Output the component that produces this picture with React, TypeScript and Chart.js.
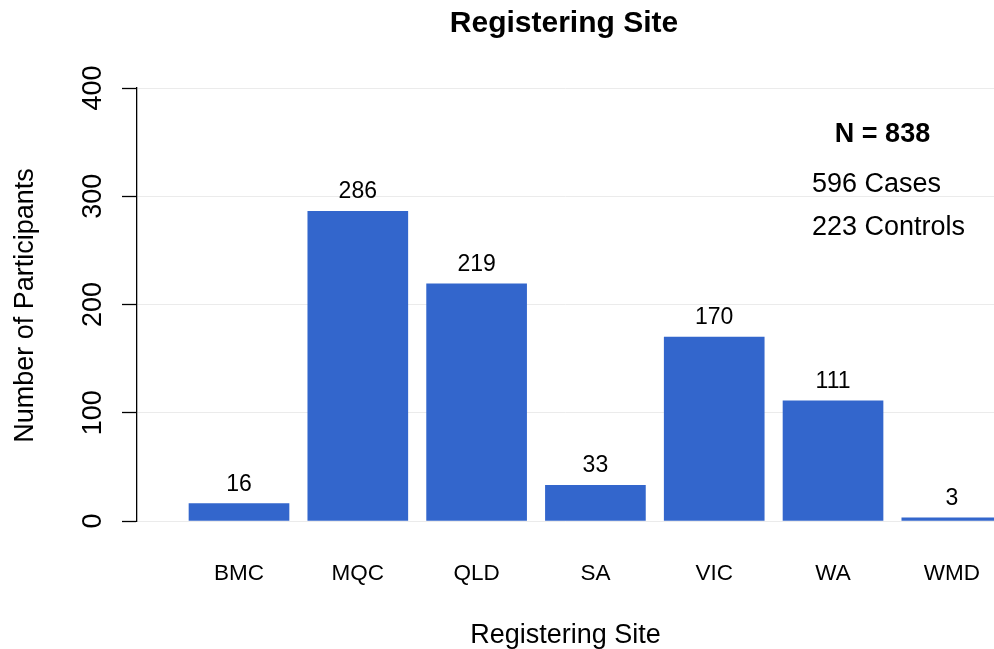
import React, { useEffect, useRef } from 'react';
import { Chart, registerables } from 'chart.js';

Chart.register(...registerables);

const categories: string[] = ['BMC', 'MQC', 'QLD', 'SA', 'VIC', 'WA', 'WMD'];
const participants: number[] = [16, 286, 219, 33, 170, 111, 3];
const yTickValues: number[] = [0, 100, 200, 300, 400];
const chartTitle = 'Registering Site';
const xAxisTitle = 'Registering Site';
const yAxisTitle = 'Number of Participants';
const noteTitle = 'N = 838';
const noteLines: string[] = ['596 Cases', '223 Controls'];

const FAM = '"Liberation Sans", Arial, Helvetica, sans-serif';

const textPlugin = {
  id: 'textPlugin',
  afterDraw(chart: any) {
    const { ctx, chartArea } = chart;
    const x = chart.scales.x;
    const y = chart.scales.y;
    ctx.save();
    ctx.fillStyle = '#000000';
    ctx.textBaseline = 'alphabetic';

    // main title
    ctx.font = `bold 30px ${FAM}`;
    ctx.textAlign = 'center';
    ctx.fillText(chartTitle, 564, 32);

    // value labels
    ctx.font = `23px ${FAM}`;
    participants.forEach((v, i) => {
      const px = x.getPixelForValue(i + 1);
      const py = y.getPixelForValue(v);
      ctx.fillText(String(v), px, py - 13);
    });

    // category labels
    ctx.font = `22.5px ${FAM}`;
    categories.forEach((c, i) => {
      const px = x.getPixelForValue(i + 1);
      ctx.fillText(c, px, 580);
    });

    // x axis title
    ctx.font = `27px ${FAM}`;
    ctx.fillText(xAxisTitle, (chartArea.left + chartArea.right) / 2, 643);

    // y tick labels (rotated)
    ctx.font = `27px ${FAM}`;
    yTickValues.forEach((v) => {
      const py = y.getPixelForValue(v);
      ctx.save();
      ctx.translate(101, py);
      ctx.rotate(-Math.PI / 2);
      ctx.fillText(String(v), 0, 0);
      ctx.restore();
    });

    // y axis title
    ctx.save();
    ctx.translate(33, (chartArea.top + chartArea.bottom) / 2 + 1);
    ctx.rotate(-Math.PI / 2);
    ctx.fillText(yAxisTitle, 0, 0);
    ctx.restore();

    // note
    ctx.font = `bold 27px ${FAM}`;
    ctx.textAlign = 'center';
    ctx.fillText(noteTitle, 882.5, 142);
    ctx.font = `27px ${FAM}`;
    ctx.textAlign = 'left';
    ctx.fillText(noteLines[0], 812, 192);
    ctx.fillText(noteLines[1], 812, 235);

    ctx.restore();
  },
};

export default function App() {
  const canvasRef = useRef<HTMLCanvasElement | null>(null);

  useEffect(() => {
    if (!canvasRef.current) return;
    const chart = new Chart(canvasRef.current, {
      type: 'bar',
      data: {
        datasets: [
          {
            data: categories.map((c, i) => ({ x: i + 1, y: participants[i] })),
            backgroundColor: '#3366CC',
            borderWidth: 0,
            barThickness: 100,
          },
        ],
      },
      options: {
        animation: false,
        responsive: false,
        devicePixelRatio: 1,
        layout: { padding: { top: 88, bottom: 128, left: 0, right: 0 } },
        plugins: {
          legend: { display: false },
          tooltip: { enabled: false },
          title: { display: false },
        },
        scales: {
          x: {
            type: 'linear',
            min: 0.1414,
            max: 7.355,
            offset: false,
            grid: { offset: false },
            display: false,
          },
          y: {
            min: 0,
            max: 400,
            ticks: { stepSize: 100, display: false },
            grid: {
              color: '#ebebeb',
              tickColor: '#000000',
              tickLength: 15,
              lineWidth: 1,
              tickWidth: 1.3,
            },
            border: { display: true, color: '#000000', width: 1.3 },
            afterFit: (s: any) => {
              s.width = 137;
            },
          },
        },
      } as any,
      plugins: [textPlugin],
    });
    return () => chart.destroy();
  }, []);

  return (
    <div style={{ position: 'fixed', left: 0, top: 0, width: 994, height: 649, background: '#ffffff' }}>
      <canvas ref={canvasRef} width={994} height={649} style={{ display: 'block' }} />
    </div>
  );
}
